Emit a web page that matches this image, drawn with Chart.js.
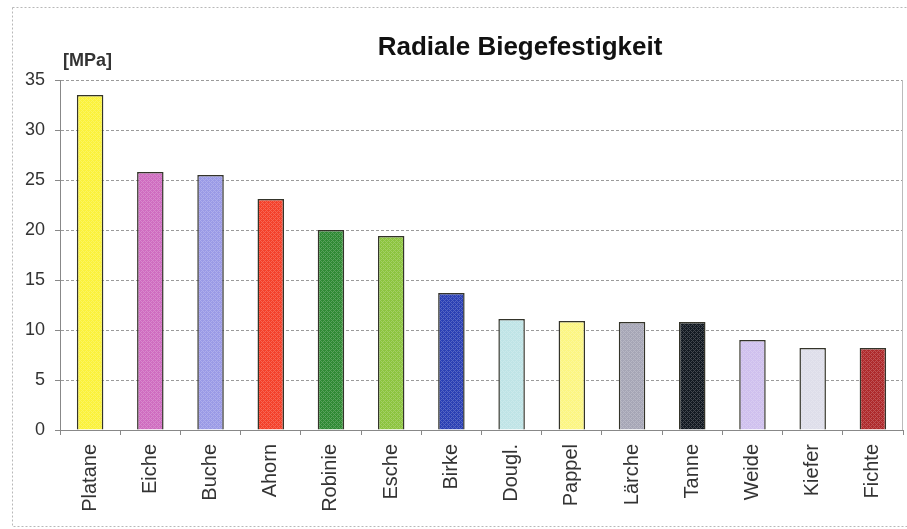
<!DOCTYPE html>
<html>
<head>
<meta charset="utf-8">
<script src="https://cdn.jsdelivr.net/npm/chart.js"></script>
<style>
  html, body { margin: 0; padding: 0; background: #fff; }
  #wrap { width: 907px; height: 529px; }
</style>
</head>
<body>
<div id="wrap"><canvas id="chart" width="907" height="529"></canvas></div>
<script>
// Holzarten und radiale Biegefestigkeit in MPa
const woods = ['Platane', 'Eiche', 'Buche', 'Ahorn', 'Robinie', 'Esche', 'Birke',
  'Dougl.', 'Pappel', 'Lärche', 'Tanne', 'Weide', 'Kiefer', 'Fichte'];
const strength = [33.5, 25.8, 25.5, 23.1, 20.0, 19.4, 13.7, 11.1, 10.9, 10.8, 10.8, 9.0, 8.2, 8.2];
const yTicks = [0, 5, 10, 15, 20, 25, 30, 35];

const barColors = ['#fbf23a', '#cf6cc0', '#9a9ae6', '#f4402a', '#2f8a34', '#8cc43e', '#2b40b4',
  '#bfe4e6', '#fcf682', '#a6a6b6', '#131a22', '#cfc0ee', '#dedeea', '#ae2a2c'];

const FONT = '"Liberation Sans", Arial, sans-serif';

// fine cross-hatch texture like the old spreadsheet fill patterns
function hatch(color) {
  const c = document.createElement('canvas');
  c.width = 4; c.height = 4;
  const g = c.getContext('2d');
  g.fillStyle = color;
  g.fillRect(0, 0, 4, 4);
  g.fillStyle = 'rgba(255,255,255,0.2)';
  for (let x = 0; x < 4; x++) {
    for (let y = 0; y < 4; y++) {
      if ((x + y) % 4 === 0 || (x - y + 4) % 4 === 0) g.fillRect(x, y, 1, 1);
    }
  }
  return g.createPattern(c, 'repeat');
}

const frame = {
  id: 'frame',
  beforeDraw(chart) {
    const ctx = chart.ctx;
    ctx.save();
    ctx.strokeStyle = '#b8b8b8';
    ctx.setLineDash([2, 2]);
    ctx.lineWidth = 1;
    ctx.strokeRect(12.5, 7.5, 920, 519);
    ctx.restore();
  },
  afterDraw(chart) {
    const ctx = chart.ctx;
    const a = chart.chartArea;
    ctx.save();
    ctx.strokeStyle = '#bbbbbb';
    ctx.lineWidth = 1;
    ctx.beginPath();
    ctx.moveTo(a.right - 0.5, a.top);
    ctx.lineTo(a.right - 0.5, a.bottom);
    ctx.stroke();
    ctx.fillStyle = '#111';
    ctx.font = 'bold 26px ' + FONT;
    ctx.textAlign = 'center';
    ctx.textBaseline = 'alphabetic';
    ctx.fillText('Radiale Biegefestigkeit', 520, 55);
    ctx.fillStyle = '#333';
    ctx.font = 'bold 18px ' + FONT;
    ctx.textAlign = 'left';
    ctx.fillText('[MPa]', 63, 66);
    ctx.restore();
  }
};

new Chart(document.getElementById('chart'), {
  type: 'bar',
  data: {
    labels: woods,
    datasets: [{
      label: 'Radiale Biegefestigkeit',
      data: strength,
      backgroundColor: barColors.map(hatch),
      borderColor: '#34342a',
      borderWidth: 1.5,
      categoryPercentage: 1,
      barPercentage: 0.44,
    }],
  },
  options: {
    responsive: false,
    animation: false,
    layout: { padding: { left: 0, right: 4, top: 80, bottom: 0 } },
    plugins: {
      legend: { display: false },
      tooltip: { enabled: false },
      title: { display: false },
    },
    scales: {
      x: {
        grid: { drawOnChartArea: false, offset: true, tickLength: 5, color: '#888' },
        border: { color: '#888' },
        ticks: {
          minRotation: 90,
          maxRotation: 90,
          padding: 9,
          color: '#333',
          font: { family: FONT, size: 20 },
        },
        afterFit(scale) { scale.height = 99; },
      },
      y: {
        min: 0,
        max: 35,
        afterBuildTicks(scale) { scale.ticks = yTicks.map(v => ({ value: v })); },
        grid: { color: '#9a9a9a', tickColor: '#888', tickLength: 5, tickBorderDash: [] },
        border: { color: '#888', dash: [3, 2] },
        ticks: {
          padding: 10,
          color: '#333',
          font: { family: FONT, size: 18 },
        },
        afterFit(scale) { scale.width = 60; },
      },
    },
  },
  plugins: [frame],
});
</script>
</body>
</html>
